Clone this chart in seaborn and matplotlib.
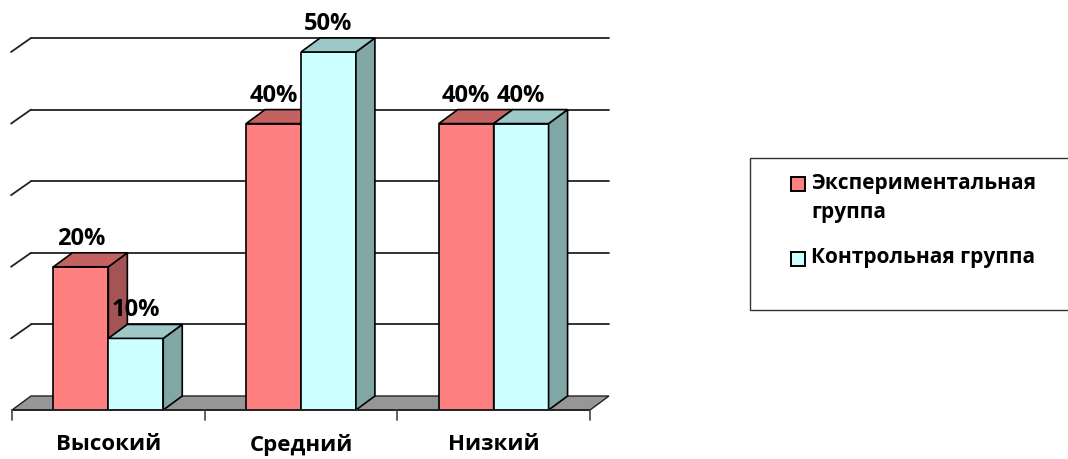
import matplotlib
matplotlib.use("Agg")
import matplotlib.pyplot as plt
from matplotlib.patches import Polygon, Rectangle
import seaborn as sns
import pandas as pd

categories = ["Высокий", "Средний", "Низкий"]
groups = ["Экспериментальная группа", "Контрольная группа"]
exp_values = [20, 40, 40]
ctrl_values = [10, 50, 40]
y_ticks = [0, 10, 20, 30, 40, 50]

front_colors = ["#FF8080", "#CCFFFF"]
top_colors = ["#C46262", "#9CC8C8"]
side_colors = ["#A45454", "#80A6A6"]

df = pd.DataFrame({
    "level": categories * 2,
    "group": [groups[0]] * 3 + [groups[1]] * 3,
    "value": exp_values + ctrl_values,
})

sns.set_theme(style="white")
plt.rcParams["font.family"] = ["Open Sans", "DejaVu Sans"]
plt.rcParams["text.color"] = "black"

W, H = 1068, 459
fig = plt.figure(figsize=(W / 100, H / 100), dpi=100)
ax = fig.add_axes([12 / W, (H - 410) / H, 578 / W, (410 - 52) / H])

sns.barplot(data=df, x="level", y="value", hue="group", palette=front_colors,
            width=0.57, edgecolor="black", linewidth=1.2, ax=ax, legend=False,
            saturation=1)
ax.set_xlim(-0.5, 2.5)
ax.set_ylim(0, 50)

DX, DY = 19, 14

def to_px(x, y):
    return ax.transData.transform((x, y))

def px_to_data(p):
    return ax.transData.inverted().transform(p)

def back(x, y):
    p = to_px(x, y)
    return px_to_data((p[0] + DX, p[1] + DY))

x0, x1 = -0.5, 2.5
floor_pts = [(x0, 0), (x1, 0), tuple(back(x1, 0)), tuple(back(x0, 0))]
ax.add_patch(Polygon(floor_pts, closed=True, facecolor="#969696", edgecolor="#222222",
                     linewidth=1.0, zorder=0.5, clip_on=False))
for v in y_ticks[1:]:
    bl = back(x0, v)
    br = back(x1, v)
    ax.plot([bl[0], br[0]], [bl[1], br[1]], color="#222222", lw=1.3, zorder=0.4, clip_on=False)
    ax.plot([x0 - 0.005, bl[0]], [v, bl[1]], color="#222222", lw=1.3, zorder=0.4, clip_on=False)

ax.plot([x0, x1], [0, 0], color="#222222", lw=1.3, zorder=5, clip_on=False)
for t in [-0.5, 0.5, 1.5, 2.5]:
    p = to_px(t, 0)
    q = px_to_data((p[0], p[1] - 10))
    ax.plot([t, t], [0, q[1]], color="#444444", lw=1.2, zorder=5, clip_on=False)

for gi, container in enumerate(ax.containers):
    for bar in container:
        bx = bar.get_x()
        bw = bar.get_width()
        bh = bar.get_height()
        z = bar.get_zorder() + gi * 2
        bar.set_zorder(z)
        tl = (bx, bh)
        tr = (bx + bw, bh)
        top = [tl, tr, tuple(back(*tr)), tuple(back(*tl))]
        br0 = (bx + bw, 0)
        side = [br0, tr, tuple(back(*tr)), tuple(back(*br0))]
        ax.add_patch(Polygon(side, closed=True, facecolor=side_colors[gi], edgecolor="black",
                             linewidth=1.2, zorder=z + 0.5, clip_on=False))
        ax.add_patch(Polygon(top, closed=True, facecolor=top_colors[gi], edgecolor="black",
                             linewidth=1.2, zorder=z + 0.5, clip_on=False))
        p = to_px(bx + bw / 2, bh)
        q = px_to_data((p[0], p[1] + DY + 2))
        ax.text(bx + bw / 2, q[1], f"{int(bh)}%", ha="center", va="bottom",
                fontsize=17, fontweight="bold", color="black", zorder=20, clip_on=False)

ax.set_xlabel("")
ax.set_ylabel("")
ax.set_yticks([])
ax.set_xticks([0, 1, 2])
ax.set_xticklabels(categories, fontsize=16, fontweight="bold", color="black")
ax.tick_params(axis="x", length=0, pad=17)
for s in ax.spines.values():
    s.set_visible(False)

# legend box
fig.patches.append(Rectangle((750 / W, (H - 310) / H), (W + 10 - 750) / W, 152 / H,
                             transform=fig.transFigure, facecolor="white",
                             edgecolor="#333333", linewidth=1.0, zorder=0))
leg_items = [(groups[0].replace(" ", "\n"), 188, 177, 0),
             (groups[1], 263, 252, 1)]
for text, base_px, sq_px, gi in leg_items:
    fig.patches.append(Rectangle((791 / W, (H - sq_px - 14) / H), 14 / W, 14 / H,
                                 transform=fig.transFigure, facecolor=front_colors[gi],
                                 edgecolor="black", linewidth=1.4))
    n_lines = text.count("\n")
    fig.text(811 / W, (H - base_px - 30 * n_lines) / H, text, ha="left", va="baseline",
             fontsize=15, fontweight="bold", color="black", linespacing=1.5)

fig.savefig("out.png", dpi=100)
